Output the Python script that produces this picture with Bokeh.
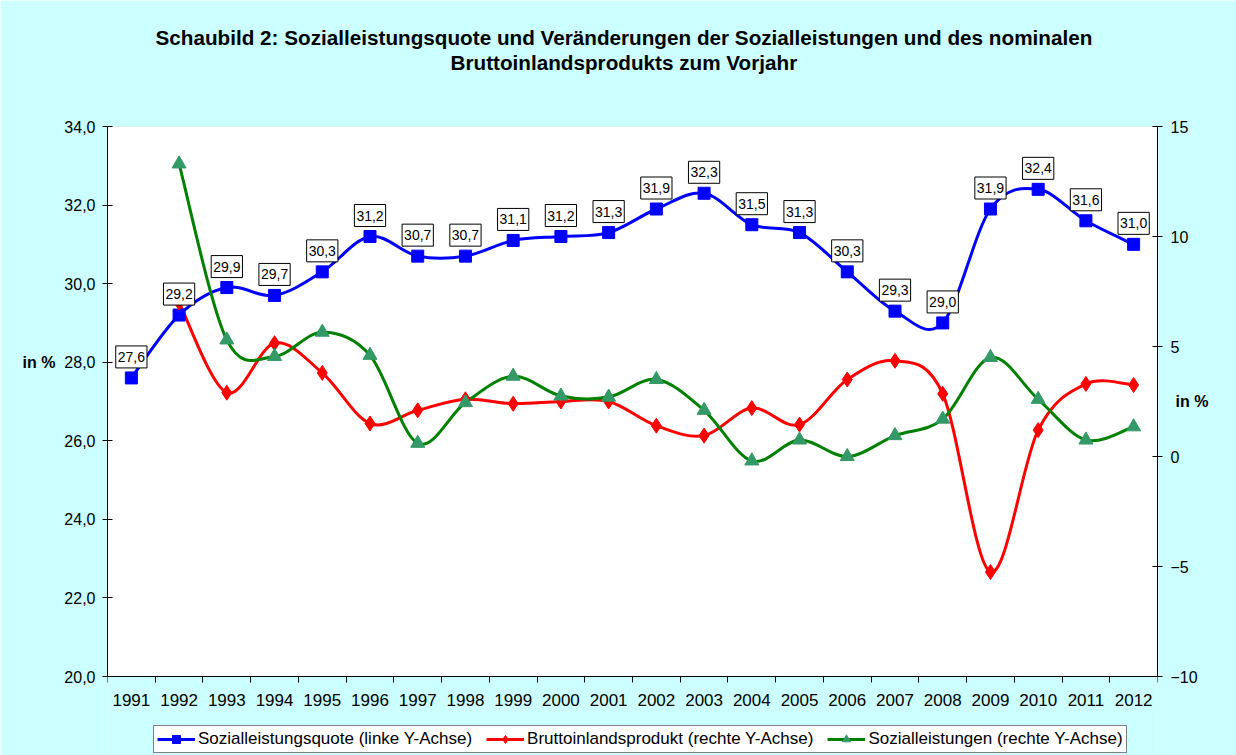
import numpy as np
from bokeh.plotting import figure
from bokeh.models import (Range1d, LinearAxis, FixedTicker, Legend, LegendItem,
                          ColumnDataSource, Title, BoxAnnotation)
from bokeh.core.properties import value
from bokeh.embed import file_html
from bokeh.resources import INLINE

# ---------------- data ----------------
years = list(range(1991, 2013))
quote = [27.6, 29.2, 29.9, 29.7, 30.3, 31.2, 30.7, 30.7, 31.1, 31.2, 31.3,
         31.9, 32.3, 31.5, 31.3, 30.3, 29.3, 29.0, 31.9, 32.4, 31.6, 31.0]
change_years = list(range(1992, 2013))
bip = [7.0, 2.9, 5.15, 3.8, 1.5, 2.1, 2.6, 2.4, 2.5, 2.5, 1.4,
       0.95, 2.2, 1.45, 3.5, 4.35, 2.85, -5.25, 1.2, 3.3, 3.25]
sozial = [13.3, 5.3, 4.55, 5.65, 4.6, 0.6, 2.45, 3.65, 2.75, 2.7, 3.5,
          2.1, -0.2, 0.75, 0.0, 0.95, 1.7, 4.5, 2.6, 0.75, 1.35]
left_ticks = [20, 22, 24, 26, 28, 30, 32, 34]
right_ticks = [-10, -5, 0, 5, 10, 15]

title_1 = "Schaubild 2: Sozialleistungsquote und Veränderungen der Sozialleistungen und des nominalen"
title_2 = "Bruttoinlandsprodukts zum Vorjahr"
legend_labels = ["Sozialleistungsquote (linke Y-Achse)",
                 "Bruttoinlandsprodukt (rechte Y-Achse)",
                 "Sozialleistungen (rechte Y-Achse)"]
unit_label = "in %"

FONT = "Liberation Sans"
BG = "#CCFFFF"

# layout (pixels)
W, H = 1236, 755
FRAME_TOP, AXIS_Y, FRAME_L, FRAME_R = 126, 676, 107, 1157
L_MIN, L_MAX = left_ticks[0], left_ticks[-1]
R_MIN, R_MAX = right_ticks[0], right_ticks[-1]
# extend the frame below the x axis so the legend can live inside it
extra_px = H - AXIS_Y
l_per_px = (L_MAX - L_MIN) / (AXIS_Y - FRAME_TOP)
r_per_px = (R_MAX - R_MIN) / (AXIS_Y - FRAME_TOP)


def smooth_segments(xs, ys):
    """Cubic Bezier control points (Catmull-Rom style, like Excel's smoothed lines)."""
    xs = np.asarray(xs, float)
    ys = np.asarray(ys, float)
    n = len(xs)
    d = dict(x0=[], y0=[], x1=[], y1=[], cx0=[], cy0=[], cx1=[], cy1=[])
    for i in range(n - 1):
        a = i - 1 if i > 0 else i
        b = i + 2 if i + 2 < n else i + 1
        d["x0"].append(xs[i]); d["y0"].append(ys[i])
        d["x1"].append(xs[i + 1]); d["y1"].append(ys[i + 1])
        d["cx0"].append(xs[i] + (xs[i + 1] - xs[a]) / 6.0)
        d["cy0"].append(ys[i] + (ys[i + 1] - ys[a]) / 6.0)
        d["cx1"].append(xs[i + 1] - (xs[b] - xs[i]) / 6.0)
        d["cy1"].append(ys[i + 1] - (ys[b] - ys[i]) / 6.0)
    return ColumnDataSource(d)


p = figure(width=W, height=H, output_backend="svg", toolbar_location=None,
           x_range=Range1d(years[0] - 0.5, years[-1] + 0.5),
           y_range=Range1d(L_MIN - extra_px * l_per_px, L_MAX),
           x_axis_location=None,
           min_border_left=FRAME_L, min_border_right=W - FRAME_R,
           min_border_top=FRAME_TOP, min_border_bottom=0)
p.extra_y_ranges = {"right": Range1d(R_MIN - extra_px * r_per_px, R_MAX)}
p.background_fill_color = BG
p.border_fill_color = BG
p.outline_line_color = None
p.xgrid.visible = False
p.ygrid.visible = False

# white plot area between 20 and 34 (left scale)
p.add_layout(BoxAnnotation(bottom=L_MIN, top=L_MAX, fill_color="white", fill_alpha=1,
                           line_color="#808080", line_width=1, level="underlay"))


def style_axis(ax, size="16px"):
    ax.major_label_text_font = FONT
    ax.major_label_text_font_size = size
    ax.major_label_text_color = "black"
    ax.axis_line_color = "black"
    ax.major_tick_line_color = "black"


# x axis at y = 20 (labels at category centres, ticks between categories)
xa = LinearAxis(fixed_location=L_MIN,
                ticker=FixedTicker(ticks=years,
                                   minor_ticks=[y + 0.5 for y in range(years[0] - 1, years[-1] + 1)]))
style_axis(xa, "17px")
xa.major_tick_in = 0
xa.major_tick_out = 0
xa.minor_tick_in = 0
xa.minor_tick_out = 6
xa.minor_tick_line_color = "black"
xa.major_label_standoff = 11
p.add_layout(xa, "below")

# left axis
ya = p.yaxis[0]
ya.ticker = FixedTicker(ticks=left_ticks)
ya.bounds = (L_MIN, L_MAX)
ya.major_label_overrides = {t: f"{t},0" for t in left_ticks}
style_axis(ya)
ya.minor_tick_line_color = None
ya.major_tick_in = 5
ya.major_tick_out = 5
ya.major_label_standoff = 7

# left unit label ("in %" next to 28,0)
ya2 = LinearAxis(ticker=FixedTicker(ticks=[28]), major_label_overrides={28: unit_label})
style_axis(ya2)
ya2.axis_line_color = None
ya2.major_tick_line_color = None
ya2.minor_tick_line_color = None
ya2.major_tick_in = 0
ya2.major_tick_out = 0
ya2.major_label_standoff = 6
ya2.major_label_text_font_style = "bold"
p.add_layout(ya2, "left")

# right axis
ra = LinearAxis(y_range_name="right", ticker=FixedTicker(ticks=right_ticks),
                bounds=(R_MIN, R_MAX))
style_axis(ra)
ra.minor_tick_line_color = None
ra.major_tick_in = 5
ra.major_tick_out = 5
ra.major_label_standoff = 8
p.add_layout(ra, "right")

ra2 = LinearAxis(y_range_name="right", ticker=FixedTicker(ticks=[2.5]),
                 major_label_overrides={2.5: unit_label})
style_axis(ra2)
ra2.axis_line_color = None
ra2.major_tick_line_color = None
ra2.minor_tick_line_color = None
ra2.major_tick_in = 0
ra2.major_tick_out = 0
ra2.major_label_standoff = -25
ra2.major_label_text_font_style = "bold"
p.add_layout(ra2, "right")

# series
BLUE, RED, GREEN, GREEN_M = "#0000FF", "#FF0000", "#008000", "#339966"

p.bezier(x0="x0", y0="y0", x1="x1", y1="y1", cx0="cx0", cy0="cy0",
         cx1="cx1", cy1="cy1", source=smooth_segments(years, quote),
         line_color=BLUE, line_width=3)
p.bezier(x0="x0", y0="y0", x1="x1", y1="y1", cx0="cx0", cy0="cy0",
         cx1="cx1", cy1="cy1", source=smooth_segments(change_years, bip),
         line_color=RED, line_width=3, y_range_name="right")
p.bezier(x0="x0", y0="y0", x1="x1", y1="y1", cx0="cx0", cy0="cy0",
         cx1="cx1", cy1="cy1", source=smooth_segments(change_years, sozial),
         line_color=GREEN, line_width=3, y_range_name="right")

b_pts = p.scatter(years, quote, marker="square", size=12, fill_color=BLUE, line_color=BLUE)
r_pts = p.scatter(change_years, bip, marker="diamond", size=15, fill_color=RED,
                  line_color=RED, y_range_name="right")
g_pts = p.scatter(change_years, sozial, marker="triangle", size=14, fill_color=GREEN_M,
                  line_color=GREEN_M, y_range_name="right")

# legend-only line glyphs (no visible data)
nan = float("nan")
b_leg = p.line([nan], [nan], line_color=BLUE, line_width=3)
r_leg = p.line([nan], [nan], line_color=RED, line_width=3, y_range_name="right")
g_leg = p.line([nan], [nan], line_color=GREEN, line_width=3, y_range_name="right")

# data labels
lab_src = ColumnDataSource(dict(x=years, y=quote,
                                t=[f"{v:.1f}".replace(".", ",") for v in quote]))
p.text(x="x", y="y", text="t", source=lab_src, text_font=value(FONT),
       text_font_size="14px", text_color="black", text_align="center",
       text_baseline="bottom", y_offset=-10, background_fill_color="white",
       border_line_color="black", border_line_width=1, padding=(2, 6))

legend = Legend(items=[LegendItem(label=legend_labels[0], renderers=[b_leg, b_pts]),
                       LegendItem(label=legend_labels[1], renderers=[r_leg, r_pts]),
                       LegendItem(label=legend_labels[2], renderers=[g_leg, g_pts])],
                orientation="horizontal", location=(46, 2),
                label_text_font=FONT, label_text_font_size="17px",
                label_text_color="black", glyph_width=38, glyph_height=20,
                label_standoff=3, spacing=14, padding=3, margin=0,
                border_line_color="black", border_line_width=1,
                background_fill_color="white", background_fill_alpha=1)
p.add_layout(legend, "center")

# chart title (two lines) with a spacer between title and plot frame
p.add_layout(Title(text=" ", text_font=FONT, text_font_size="18px",
                   standoff=31), "above")
p.add_layout(Title(text=title_2, text_font=FONT, text_font_size="20.7px",
                   text_font_style="bold", text_color="black", align="left",
                   offset=343, standoff=0), "above")
p.add_layout(Title(text=title_1, text_font=FONT, text_font_size="20.7px",
                   text_font_style="bold", text_color="black", align="left",
                   offset=48, standoff=0), "above")

open("out.html", "w").write(file_html(p, INLINE))
